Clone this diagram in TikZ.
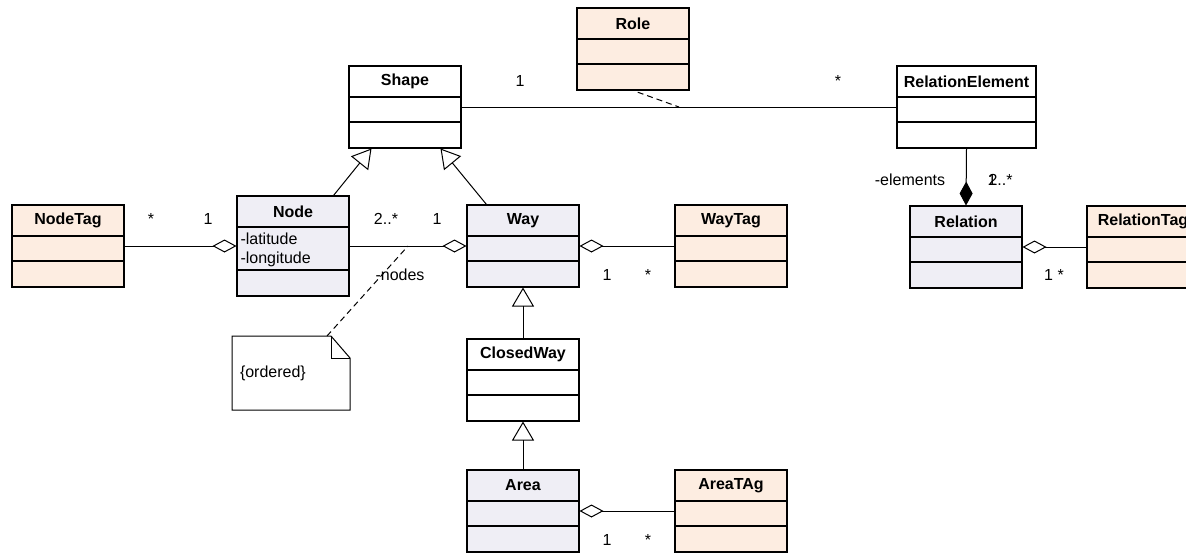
\documentclass[tikz,border=0pt]{standalone}
\usepackage{fontspec}
\setmainfont{Liberation Sans}
\usetikzlibrary{positioning, fit, calc, arrows.meta}

\definecolor{classfill}{RGB}{239,238,245}
\definecolor{tagfill}{RGB}{253,237,225}

\tikzset{
  class width/.initial=112pt,
  attr height/.initial=25pt,
}

% class box with three compartments: name #2, top-left corner #3, title #4, fill #5
\newcommand{\umlclass}[5][]{%
  \begin{scope}[#1]
    \node[classhead, fill=#5, anchor=north west] (#2-head) at (#3) {#4};
    \node[classpart, fill=#5, anchor=north,
          minimum height=\pgfkeysvalueof{/tikz/attr height}] (#2-attr) at (#2-head.south) {};
    \node[classpart, fill=#5, anchor=north] (#2-ops) at (#2-attr.south) {};
    \node[fit=(#2-head)(#2-ops), inner sep=0pt] (#2) {};
  \end{scope}}

\begin{document}
\begin{tikzpicture}[
  x=1pt, y=-1pt,
  font=\fontsize{16}{19}\selectfont,
  line width=1pt,
  classhead/.style={draw, line width=1.2pt, font=\fontsize{16}{19}\selectfont\bfseries,
    minimum width=\pgfkeysvalueof{/tikz/class width}, minimum height=31pt,
    inner sep=0pt, outer sep=0pt},
  classpart/.style={draw, line width=1.2pt,
    minimum width=\pgfkeysvalueof{/tikz/class width}, minimum height=26pt,
    inner sep=0pt, outer sep=0pt},
  attrlist/.style={anchor=north west, align=left, inner xsep=3pt, inner ysep=5pt},
  mult/.style={anchor=base, inner sep=0pt},
  aggr/.style={-{Diamond[open, length=24pt, width=13pt]}},
  comp/.style={-{Diamond[length=24pt, width=13pt]}},
  inherit/.style={-{Triangle[open, length=19pt, width=22pt]}},
  notelink/.style={dash pattern=on 6pt off 4pt},
  notebox/.style={anchor=north west, text width=102pt, align=left, inner xsep=8pt,
    minimum height=74pt, outer sep=0pt}
]

\useasboundingbox (0,0) rectangle (1186,552);
\clip (0,0) rectangle (1186,552);
\fill[white] (0,0) rectangle (1186,552);

% ── classes ─────────────────────────────────────────────
\umlclass{Role}{577,8}{Role}{tagfill}
\umlclass{Shape}{349,66}{Shape}{white}
\umlclass[class width=139pt]{RelationElement}{897,66}{RelationElement}{white}

\umlclass{NodeTag}{12,205}{NodeTag}{tagfill}
\umlclass[attr height=43pt]{Node}{237,196}{Node}{classfill}
\node[attrlist] (Node-list) at (Node-attr.north west) {-latitude\\-longitude};
\umlclass{Way}{467,205}{Way}{classfill}
\umlclass{WayTag}{675,205}{WayTag}{tagfill}
\umlclass{Relation}{910,206}{Relation}{classfill}
\umlclass{RelationTag}{1087,206}{RelationTag}{tagfill}

\umlclass{ClosedWay}{467,339}{ClosedWay}{white}
\umlclass{Area}{467,470}{Area}{classfill}
\umlclass{AreaTag}{675,470}{AreaTAg}{tagfill}

% ── Shape -- RelationElement, with Role as association class ──
\draw (Shape.east) -- (RelationElement.west);
\coordinate (assocmid) at ($(Shape.east)!0.5!(RelationElement.west)$);
\draw[notelink, shorten <=5pt] (Role.south) -- (assocmid);
\node[mult] (m-shape) at (520,86) {1};
\node[mult] (m-relel) at (838,86) {*};

% ── generalisations ─────────────────────────────────────
\draw[inherit] ([xshift=-16pt]Node.north east) -- ([xshift=23pt]Shape.south west);
\draw[inherit] ([xshift=20pt]Way.north west) -- ([xshift=-21pt]Shape.south east);
\draw[inherit] (ClosedWay.north) -- (Way.south);
\draw[inherit] (Area.north) -- (ClosedWay.south);

% ── tags ────────────────────────────────────────────────
\draw[aggr] (NodeTag.east) -- (Node.west);
\node[mult] (m-nodetag) at (151,224) {*};
\node[mult] (m-node) at (208,224) {1};

\draw[aggr] (WayTag.west) -- (Way.east);
\node[mult] (m-way-1) at (607,280) {1};
\node[mult] (m-waytag) at (648,280) {*};

\draw[aggr] (AreaTag.west) -- (Area.east);
\node[mult] (m-area-1) at (607,545) {1};
\node[mult] (m-areatag) at (648,545) {*};

\draw[aggr] (RelationTag.west) -- (Relation.east);
\node[mult] (m-reltag) at (1054,280) {1 *};

% ── Way nodes ───────────────────────────────────────────
\draw[aggr] (Node.east) -- (Way.west);
\coordinate (nodesmid) at ($(Node.east)!0.5!(Way.west)$);
\node[mult] (m-nodes) at (386,224) {2..*};
\node[mult] (m-way-2) at (437,224) {1};
\node[mult] (r-nodes) at (400,280) {-nodes};

\node[notebox] (note) at (232,336) {\{ordered\}};
\draw (note.south west) -- (note.north west) -- ([xshift=-19pt]note.north east)
  -- ([yshift=-22pt]note.north east) -- (note.south east) -- cycle;
\draw ([xshift=-19pt]note.north east) |- ([yshift=-22pt]note.north east);
\draw[notelink] ([xshift=-23pt]note.north east) -- (nodesmid);

% ── Relation elements ───────────────────────────────────
\draw[comp] (RelationElement.south) -- (Relation.north);
\node[mult] (r-elements) at (910,185) {-elements};
\node[mult, anchor=base west] (m-elements-1) at (987,185) {1};
\node[mult, anchor=base west] (m-elements-n) at (988,185) {2..*};

\end{tikzpicture}
\end{document}
